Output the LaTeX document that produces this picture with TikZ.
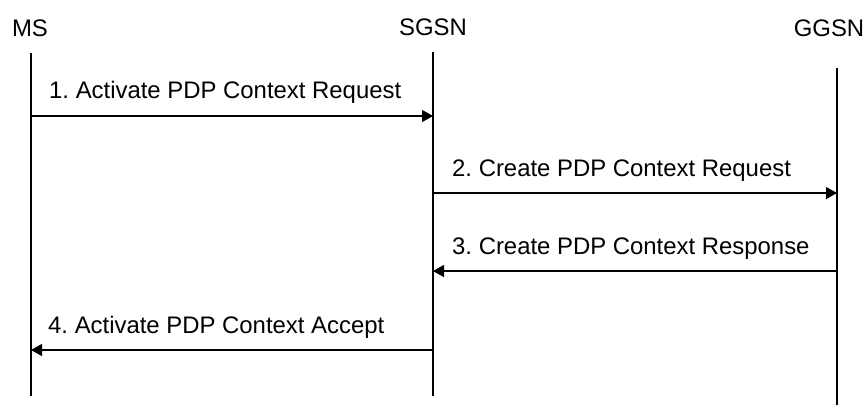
\documentclass[tikz,border=0pt]{standalone}
\usepackage{fontspec}
\setmainfont{Liberation Sans}
\usetikzlibrary{arrows.meta}
\frenchspacing
\begin{document}
\begin{tikzpicture}[x=1pt,y=-1pt,
  hdr/.style={anchor=base,inner sep=0pt,font=\fontsize{23.9}{28}\selectfont},
  lbl/.style={anchor=base west,inner sep=0pt,font=\fontsize{23.9}{28}\selectfont},
  life/.style={line width=1.8pt},
  msg/.style={line width=1.3pt,-{Triangle[length=11pt,width=12pt]}}]
\useasboundingbox (0,0) rectangle (866,405);
% headers
\node[hdr] (hms) at (30,36) {MS};
\node[hdr] (hsgsn) at (433,35) {SGSN};
\node[hdr] (hggsn) at (829,36) {GGSN};
% lifelines
\coordinate (msT) at (31,53);  \coordinate (msB) at (31,396);
\coordinate (sgT) at (433,52); \coordinate (sgB) at (433,396);
\coordinate (ggT) at (837,68); \coordinate (ggB) at (837,405);
\draw[life] (msT) -- (msB);
\draw[life] (sgT) -- (sgB);
\draw[life] (ggT) -- (ggB);
% message endpoints
\coordinate (m1a) at (31,116);  \coordinate (m1b) at (433,116);
\coordinate (m2a) at (433,193); \coordinate (m2b) at (837,193);
\coordinate (m3a) at (837,271); \coordinate (m3b) at (433,271);
\coordinate (m4a) at (433,350); \coordinate (m4b) at (31,350);
\draw[msg] (m1a) -- (m1b);
\draw[msg] (m2a) -- (m2b);
\draw[msg] (m3a) -- (m3b);
\draw[msg] (m4a) -- (m4b);
% labels
\node[lbl] (l1) at (49,98) {1. Activate PDP Context Request};
\node[lbl] (l2) at (452,176) {2. Create PDP Context Request};
\node[lbl] (l3) at (452,254) {3. Create PDP Context Response};
\node[lbl] (l4) at (48,333) {4. Activate PDP Context Accept};
\end{tikzpicture}
\end{document}
